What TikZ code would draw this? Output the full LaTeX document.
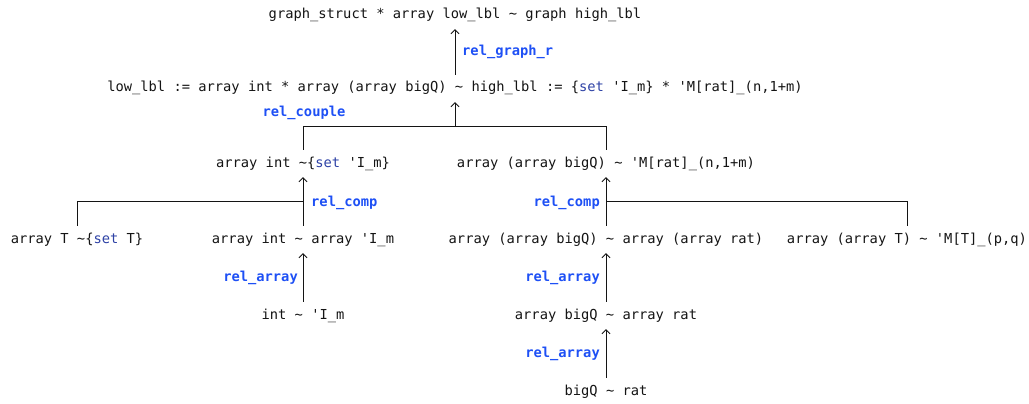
\documentclass[tikz,border=0pt]{standalone}
\usepackage{fontspec}
\setmonofont{DejaVu Sans Mono}
\usepackage{xcolor}
\usetikzlibrary{arrows.meta}
\definecolor{lbl}{RGB}{30,80,245}
\definecolor{kwc}{RGB}{45,65,165}
\definecolor{txt}{RGB}{20,20,20}
\newcommand{\kwd}[1]{\textcolor{kwc}{#1}}
\begin{document}
\begin{tikzpicture}[x=1pt,y=-1pt,
  every node/.style={font=\ttfamily\fontsize{13.75}{16}\selectfont, text=txt, inner sep=0pt},
  judg/.style={anchor=base, text height=17pt, text depth=10pt},
  rulelbl/.style={font=\ttfamily\bfseries\fontsize{13.75}{16}\selectfont, text=lbl},
  conn/.style={draw=txt, line width=0.9pt},
  arr/.style={conn, -{Straight Barb[length=4pt,width=8pt,line width=0.9pt]}}]
\useasboundingbox (0,0) rectangle (1029,404);
% judgements
\node[judg] (T0) at (455,19) {graph\_struct * array low\_lbl ∼ graph high\_lbl};
\node[judg] (T1) at (455,92) {low\_lbl := array int * array (array bigQ) ∼ high\_lbl := \{\kwd{set} 'I\_m\} * 'M[rat]\_(n,1+m)};
\node[judg] (L3a) at (303,167) {array int ∼\{\kwd{set} 'I\_m\}};
\node[judg] (L3b) at (606,167) {array (array bigQ) ∼ 'M[rat]\_(n,1+m)};
\node[judg] (L4a) at (77,243) {array T ∼\{\kwd{set} T\}};
\node[judg] (L4b) at (303,243) {array int ∼ array 'I\_m};
\node[judg] (L4c) at (606,243) {array (array bigQ) ∼ array (array rat)};
\node[judg] (L4d) at (907,243) {array (array T) ∼ 'M[T]\_(p,q)};
\node[judg] (L5a) at (303,319) {int ∼ 'I\_m};
\node[judg] (L5b) at (606,319) {array bigQ ∼ array rat};
\node[judg] (L6) at (606,395) {bigQ ∼ rat};
% bars
\coordinate (b1) at (0,126);
\coordinate (b2) at (0,201.5);
% connectors
\draw[arr] (T1.north) -- (T0.south);
\draw[conn] (L3a.north) -- (L3a.north |- b1) -- (L3b.north |- b1) -- (L3b.north);
\draw[arr] (T1.south |- b1) -- (T1.south);
\draw[conn] (L4a.north) -- (L4a.north |- b2) -- (L3a.south |- b2);
\draw[arr] (L4b.north) -- (L3a.south);
\draw[conn] (L4d.north) -- (L4d.north |- b2) -- (L3b.south |- b2);
\draw[arr] (L4c.north) -- (L3b.south);
\draw[arr] (L5a.north) -- (L4b.south);
\draw[arr] (L5b.north) -- (L4c.south);
\draw[arr] (L6.north) -- (L5b.south);
% rule labels
\node[rulelbl, anchor=base west] (r1) at (462,56) {rel\_graph\_r};
\node[rulelbl, anchor=base] (r2) at (304,117) {rel\_couple};
\node[rulelbl, anchor=base west] (r3) at (311,206) {rel\_comp};
\node[rulelbl, anchor=base east] (r4) at (600,206) {rel\_comp};
\node[rulelbl, anchor=base east] (r5) at (298,281) {rel\_array};
\node[rulelbl, anchor=base east] (r6) at (600,281) {rel\_array};
\node[rulelbl, anchor=base east] (r7) at (600,357) {rel\_array};
\end{tikzpicture}
\end{document}
